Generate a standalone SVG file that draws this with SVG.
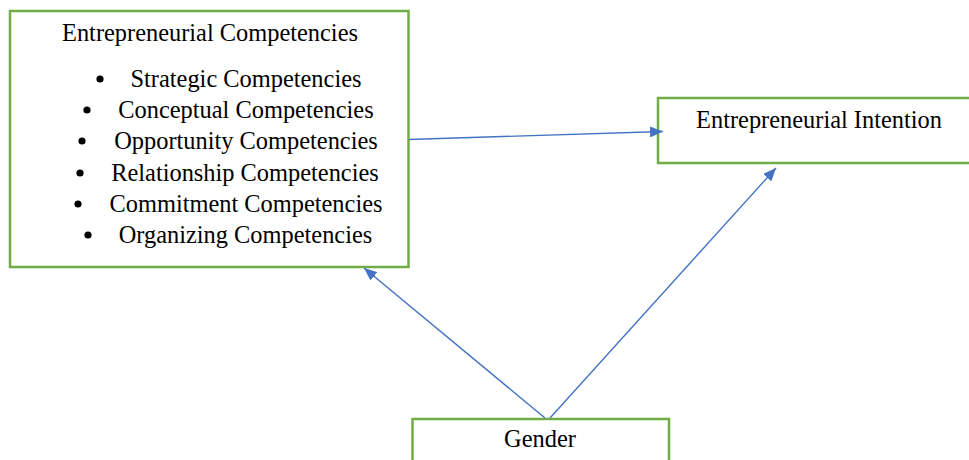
<svg xmlns="http://www.w3.org/2000/svg" width="969" height="460" viewBox="0 0 969 460">
<style>
.box{fill:#fff;stroke:#70AD47;stroke-width:2.5}
.t{font-family:"Liberation Serif","Times New Roman",serif;font-size:24.4px;fill:#000}
.c{text-anchor:middle}
.conn{stroke:#4472C4;stroke-width:1.4;fill:none}
.bul{fill:#000}
</style>
<defs>
<marker id="ah" markerUnits="userSpaceOnUse" markerWidth="13" markerHeight="11" refX="13" refY="5.5" orient="auto">
<path d="M0,0 L13,5.5 L0,11 Z" fill="#4472C4"/>
</marker>
</defs>
<rect width="969" height="460" fill="#fff"/>
<g id="node-competencies">
<rect class="box" x="10" y="11" width="398.5" height="256"/>
<text class="t c" x="210" y="41">Entrepreneurial Competencies</text>
<circle class="bul" cx="100" cy="79" r="3.6"/>
<text class="t c" x="246" y="87">Strategic Competencies</text>
<circle class="bul" cx="87" cy="110" r="3.6"/>
<text class="t c" x="246" y="118">Conceptual Competencies</text>
<circle class="bul" cx="82" cy="141" r="3.6"/>
<text class="t c" x="246" y="149">Opportunity Competencies</text>
<circle class="bul" cx="80" cy="173" r="3.6"/>
<text class="t c" x="245" y="181">Relationship Competencies</text>
<circle class="bul" cx="78" cy="204" r="3.6"/>
<text class="t c" x="246" y="212">Commitment Competencies</text>
<circle class="bul" cx="88" cy="235" r="3.6"/>
<text class="t c" x="245.5" y="243">Organizing Competencies</text>
</g>
<g id="node-intention">
<rect class="box" x="658" y="98" width="330" height="65"/>
<text class="t c" x="819" y="128">Entrepreneurial Intention</text>
</g>
<g id="node-gender">
<rect class="box" x="412.5" y="419" width="256.5" height="60"/>
<text class="t c" x="540" y="447">Gender</text>
</g>
<g id="connectors">
<line class="conn" x1="409" y1="139.5" x2="663" y2="131.5" marker-end="url(#ah)"/>
<line class="conn" x1="545" y1="418" x2="364" y2="268" marker-end="url(#ah)"/>
<line class="conn" x1="550" y1="418" x2="776" y2="168" marker-end="url(#ah)"/>
</g>
</svg>
